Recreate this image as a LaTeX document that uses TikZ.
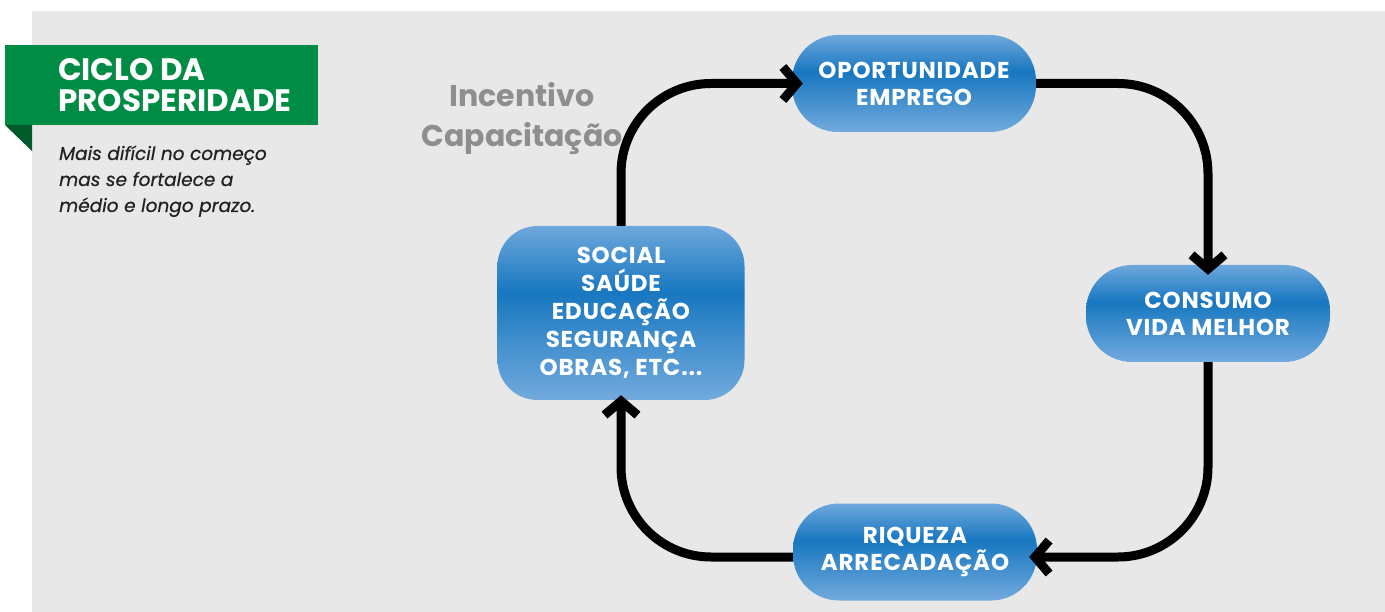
\documentclass[tikz,border=0pt]{standalone}
\usepackage{fontspec}
\setmainfont{Poppins}
\newfontfamily\popwide[LetterSpace=3.5]{Poppins}
\newfontfamily\subfont[FakeBold=0.6]{Poppins}
\usetikzlibrary{arrows.meta,calc}
\definecolor{panel}{HTML}{E8E8E8}
\definecolor{bannergreen}{HTML}{008C44}
\definecolor{folddark}{HTML}{005A2A}
\definecolor{subtext}{HTML}{222222}
\definecolor{incgray}{HTML}{8E8E8E}
\definecolor{ptop}{HTML}{6EA8DC}
\definecolor{pmid}{HTML}{1777C0}
\definecolor{pbot}{HTML}{72AADD}
\pgfdeclareverticalshading{pillshade}{100bp}{color(0bp)=(pbot); color(25bp)=(pbot); color(56bp)=(pmid); color(75bp)=(ptop); color(100bp)=(ptop)}
\tikzset{
  pill/.style={rectangle, rounded corners=46pt, shading=pillshade, minimum width=244pt, minimum height=97pt, inner sep=0pt, text=white, align=center, font=\popwide\bfseries\fontsize{23}{27}\selectfont},
  bigbox/.style={pill, rounded corners=40pt, minimum width=247pt, minimum height=174pt, font=\popwide\bfseries\fontsize{23}{28}\selectfont},
  arr/.style={line width=9pt, rounded corners=90pt, -{Straight Barb[sharp, length=14pt, width=33pt]}},
}
\begin{document}
\begin{tikzpicture}[x=1pt, y=-1pt]
\useasboundingbox (0,0) rectangle (1385,612);
\fill[white] (0,0) rectangle (1385,612);
\fill[panel] (32,11) rectangle (1385,612);
% banner
\fill[bannergreen] (5,45) rectangle (318,125);
\fill[folddark] (5,125) -- (32,125) -- (32,151) -- cycle;
\node[anchor=base west, inner sep=0pt, text=white, align=left, font=\bfseries\fontsize{31}{31}\selectfont] (title) at (58,112) {CICLO DA\\PROSPERIDADE};
\node[anchor=base west, inner sep=0pt, text=subtext, align=left, font=\subfont\itshape\fontsize{18.5}{26}\selectfont] (sub) at (59,212) {Mais difícil no começo\\mas se fortalece a\\médio e longo prazo.};
\node[anchor=base, inner sep=0pt, text=incgray, align=center, font=\bfseries\fontsize{30}{40}\selectfont] (inc) at (522,147) {Incentivo\\Capacitação};
% nodes
\node[pill] (opp) at (914,83.5) {OPORTUNIDADE\\EMPREGO};
\node[pill] (con) at (1208,313.5) {CONSUMO\\VIDA MELHOR};
\node[pill] (riq) at (915,552) {RIQUEZA\\ARRECADAÇÃO};
\node[bigbox] (soc) at (621,313) {SOCIAL\\SAÚDE\\EDUCAÇÃO\\SEGURANÇA\\OBRAS, ETC...};
% connectors
\draw[arr] (soc.north) |- ($(opp.west)+(11,0)$);
\draw[arr] (opp.east) -| ($(con.north)+(0,10)$);
\draw[arr] (con.south) |- ($(riq.east)+(-8,5)$);
\draw[arr] ($(riq.west)+(0,5)$) -| ($(soc.south)+(0,-5)$);
\end{tikzpicture}
\end{document}
